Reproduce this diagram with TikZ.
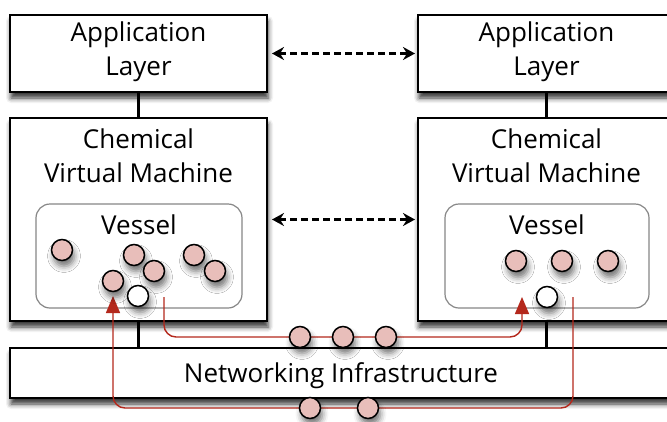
\documentclass[tikz,border=0pt]{standalone}
\usepackage{fontspec}
\setmainfont{Open Sans}
\usetikzlibrary{arrows.meta,shadows.blur}
\definecolor{molpink}{RGB}{232,190,186}
\definecolor{flowred}{RGB}{180,40,28}
\definecolor{vesgray}{RGB}{135,135,135}
\begin{document}
\begin{tikzpicture}[x=1pt,y=-1pt,
  box/.style={draw=black, line width=2pt, fill=white, minimum width=257pt, inner sep=0pt,
    blur shadow={shadow xshift=1pt, shadow yshift=-6pt, shadow blur radius=5pt, shadow opacity=80}},
  vessel/.style={draw=vesgray, line width=1.2pt, fill=white, rounded corners=14pt,
    minimum width=206pt, minimum height=104pt, inner sep=0pt},
  mol/.style={circle, draw=black, line width=1.5pt, fill=molpink, minimum size=21pt, inner sep=0pt,
    blur shadow={shadow xshift=2pt, shadow yshift=-6pt, shadow blur radius=6pt, shadow opacity=55}},
  molw/.style={mol, fill=white},
  title/.style={font=\fontsize{26}{34}\selectfont, anchor=base, inner sep=0pt},
  link/.style={line width=2.6pt},
  dasharrow/.style={line width=2.6pt, dash pattern=on 7pt off 4pt,
    {Stealth[length=12pt,width=13pt,inset=4pt]}-{Stealth[length=12pt,width=13pt,inset=4pt]}},
  flow/.style={draw=flowred, line width=1.4pt, rounded corners=12pt, -{Triangle[length=17pt,width=14pt]}},
]
\useasboundingbox (0,0) rectangle (667,421);
\clip (0,0) rectangle (667,421);

% boxes
\node[box, minimum height=77pt] (appL) at (138.5,53.5) {};
\node[box, minimum height=77pt] (appR) at (546.5,53.5) {};
\node[box, minimum height=203pt] (cvmL) at (138.5,219.5) {};
\node[box, minimum height=203pt] (cvmR) at (546.5,219.5) {};
\node[box, minimum width=662pt, minimum height=50pt] (net) at (341,373) {};

% vertical links
\draw[link] (appL.south) -- (cvmL.north);
\draw[link] (appR.south) -- (cvmR.north);
\draw[link] (cvmL.south) -- (cvmL.south |- net.north);
\draw[link] (cvmR.south) -- (cvmR.south |- net.north);

% vessels
\node[vessel] (vesL) at (139,256) {};
\node[vessel, minimum width=204pt] (vesR) at (547,256) {};

% texts
\node[title] (tA1) at (138.5,41) {Application};
\node[title] (tA2) at (138.5,75) {Layer};
\node[title] (tB1) at (546.5,41) {Application};
\node[title] (tB2) at (546.5,75) {Layer};
\node[title] (tC1) at (138.5,148) {Chemical};
\node[title] (tC2) at (138.5,182) {Virtual Machine};
\node[title] (tD1) at (546.5,148) {Chemical};
\node[title] (tD2) at (546.5,182) {Virtual Machine};
\node[title] (tV1) at (139,234) {Vessel};
\node[title] (tV2) at (547,234) {Vessel};
\node[title] (tN) at (341,382) {Networking Infrastructure};

% dashed arrows
\draw[dasharrow] ([xshift=4pt]appL.east) -- ([xshift=-2pt]appR.west);
\draw[dasharrow] ([xshift=4pt]cvmL.east) -- ([xshift=-2pt]cvmR.west);

% red flows
\coordinate (s1) at (164,297);
\coordinate (c1a) at (164,337);
\coordinate (c1b) at (522,337);
\coordinate (e1) at (522,297);
\draw[flow] (s1) -- (c1a) -- (c1b) -- (e1);
\coordinate (s2) at (573,297);
\coordinate (c2a) at (573,408);
\coordinate (c2b) at (113,408);
\coordinate (e2) at (113,296);
\draw[flow] (s2) -- (c2a) -- (c2b) -- (e2);

% molecules in left vessel
\node[mol] (m1) at (62,250) {};
\node[mol] (m2) at (134,255) {};
\node[mol] (m3) at (154,271) {};
\node[mol] (m4) at (113,281) {};
\node[molw] (w1) at (138,296) {};
\node[mol] (m5) at (194,255) {};
\node[mol] (m6) at (215,271) {};
% molecules in right vessel
\node[mol] (r1) at (516,261) {};
\node[mol] (r2) at (562,261) {};
\node[mol] (r3) at (608,261) {};
\node[molw] (w2) at (547,297) {};
% molecules in transit
\node[mol] (p1) at (300,337) {};
\node[mol] (p2) at (343,337) {};
\node[mol] (p3) at (386,337) {};
\node[mol] (q1) at (310,408) {};
\node[mol] (q2) at (368,408) {};
\end{tikzpicture}
\end{document}
